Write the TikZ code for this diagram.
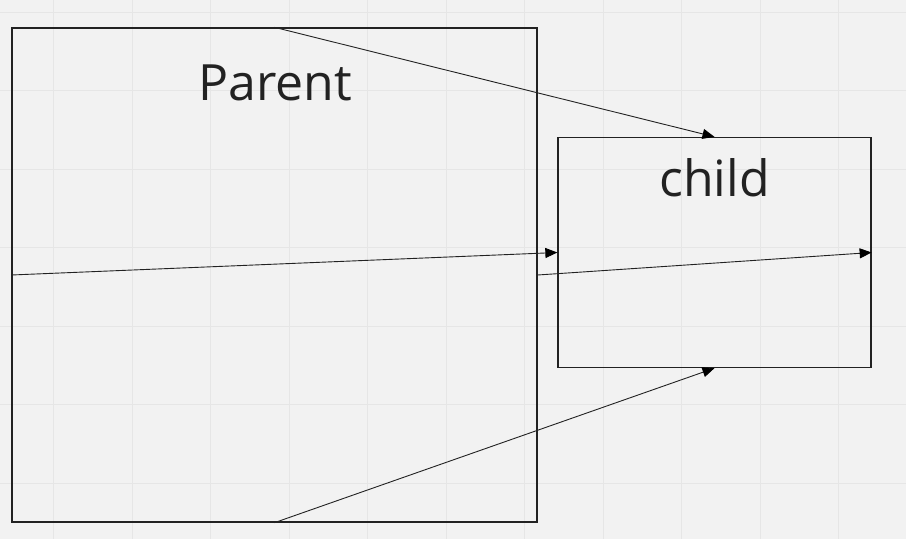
\documentclass[tikz,border=0pt]{standalone}
\usepackage{fontspec}
\setmainfont{Open Sans}
\usetikzlibrary{arrows.meta}
\definecolor{bg}{HTML}{F2F2F2}
\definecolor{gridc}{HTML}{E6E6E6}
\definecolor{ink}{HTML}{222222}
\tikzset{
  box/.style={draw=ink, line width=1.3pt, inner sep=0pt},
  arr/.style={draw=ink, line width=0.9pt, -{Triangle[length=12pt,width=10pt,fill=black,color=black]}},
  lbl/.style={text=ink, font=\fontsize{50}{60}\selectfont, anchor=base, inner sep=0pt},
  gridline/.style={draw=gridc, line width=1pt}
}
\begin{document}
\begin{tikzpicture}[x=1pt,y=-1pt]
\fill[bg] (0,0) rectangle (906,539);
\useasboundingbox (0,0) rectangle (906,539);
\foreach \k in {0,...,10} {\draw[gridline] (53.5+78.5*\k,0) -- (53.5+78.5*\k,539);}
\foreach \k in {0,...,6} {\draw[gridline] (0,12+78.5*\k) -- (906,12+78.5*\k);}
\node[box, minimum width=525pt, minimum height=494pt] (parent) at (274.5,275) {};
\node[box, minimum width=313pt, minimum height=230pt] (child) at (714.5,252.5) {};
\node[lbl] (ptext) at (275,100) {Parent};
\node[lbl] (ctext) at (714.5,196) {child};
\draw[arr] (parent.north) -- (child.north);
\draw[arr] (parent.west) -- (child.west);
\draw[arr] (parent.east) -- (child.east);
\draw[arr] (parent.south) -- (child.south);
\end{tikzpicture}
\end{document}
